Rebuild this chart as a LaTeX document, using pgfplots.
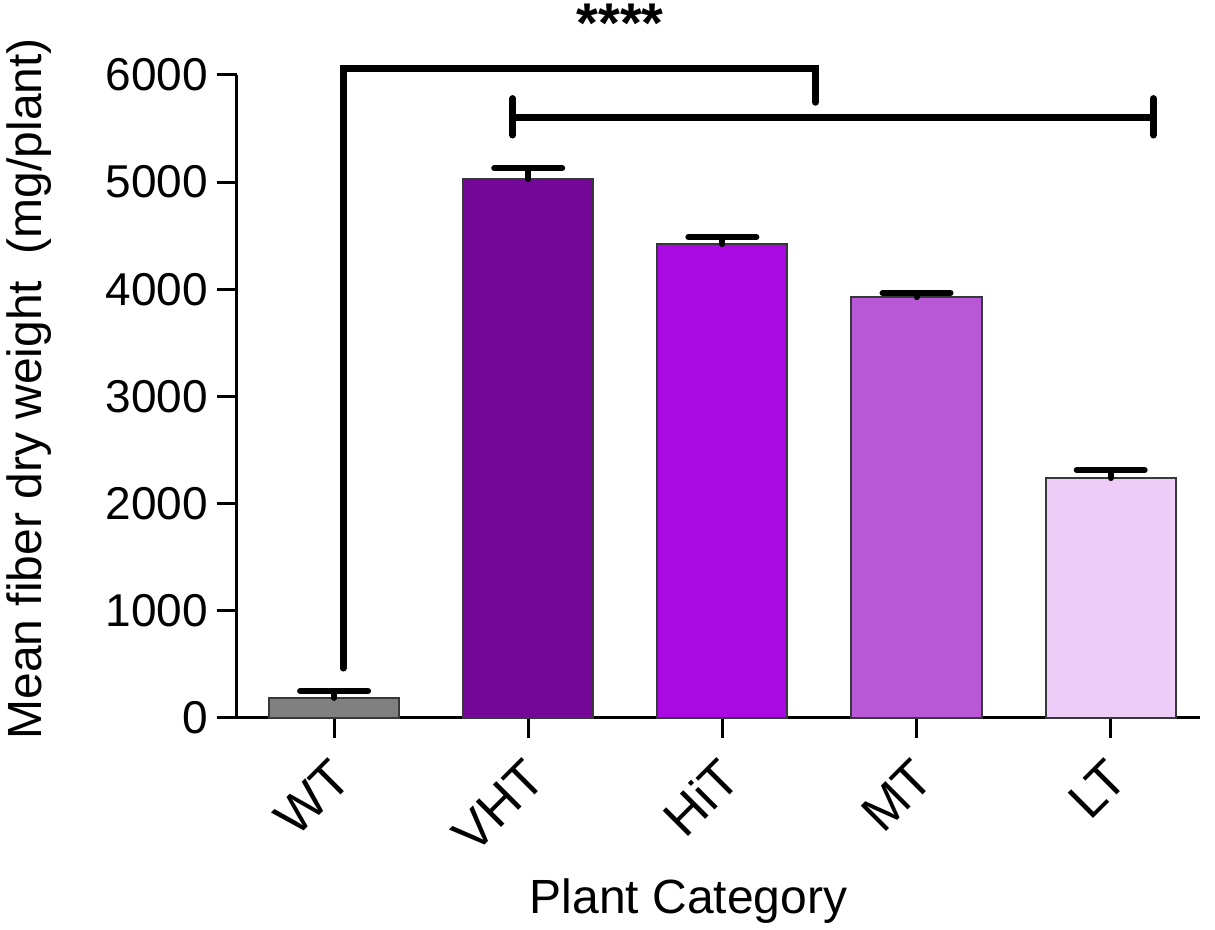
\documentclass[border=0pt]{standalone}
\usepackage{pgfplots}
\pgfplotsset{compat=1.18}
\usepackage{fontspec}
\setmainfont{Liberation Sans}
\definecolor{cWT}{RGB}{128,128,128}
\definecolor{cVHT}{RGB}{117,7,152}
\definecolor{cHiT}{RGB}{170,10,226}
\definecolor{cMT}{RGB}{184,88,214}
\definecolor{cLT}{RGB}{238,204,248}
\definecolor{edge}{RGB}{55,55,60}
\begin{document}
\begin{tikzpicture}
\begin{axis}[
  at={(0,0)}, anchor=south west,
  scale only axis, width=481.5pt, height=321.5pt,
  axis x line*=bottom, axis y line*=left,
  axis line style={line width=1.5pt},
  xmin=-0.5, xmax=4.46, ymin=0, ymax=6000,
  xtick={0,1,2,3,4}, xticklabels={WT,VHT,HiT,MT,LT},
  ytick={0,1000,...,6000},
  tick align=outside, major tick length=10pt,
  tick style={line width=1.5pt, black},
  /pgf/number format/assume math mode=true,
  /pgf/number format/1000 sep={},
  yticklabel style={font=\fontsize{23}{27}\selectfont, xshift=-1pt},
  xticklabel style={font=\fontsize{26}{30}\selectfont, xshift=6pt, yshift=-13pt, rotate=45, anchor=east},
  ylabel={Mean fiber dry weight\ \ (mg/plant)},
  ylabel style={font=\fontsize{24}{28}\selectfont, at={(axis description cs:-0.2025,0.512)}, anchor=base, rotate=0},
  xlabel={Plant Category},
  xlabel style={font=\fontsize{24}{28}\selectfont, at={(axis description cs:0.469,-0.3033)}, anchor=base},
  ybar, bar width=0.67,
  clip=false,
]
\addplot[ybar, bar shift=0pt, fill=cWT, draw=edge, line width=1pt,
  error bars/.cd, y dir=plus, y explicit,
  error bar style={line width=3pt, black, line cap=round},
  error mark options={rotate=90, mark size=17pt, line width=3pt, black, line cap=round}]
  coordinates {(0,187) +- (0,65)};
\addplot[ybar, bar shift=0pt, fill=cVHT, draw=edge, line width=1pt,
  error bars/.cd, y dir=plus, y explicit,
  error bar style={line width=3pt, black, line cap=round},
  error mark options={rotate=90, mark size=17pt, line width=3pt, black, line cap=round}]
  coordinates {(1,5028) +- (0,103)};
\addplot[ybar, bar shift=0pt, fill=cHiT, draw=edge, line width=1pt,
  error bars/.cd, y dir=plus, y explicit,
  error bar style={line width=3pt, black, line cap=round},
  error mark options={rotate=90, mark size=17pt, line width=3pt, black, line cap=round}]
  coordinates {(2,4422) +- (0,65)};
\addplot[ybar, bar shift=0pt, fill=cMT, draw=edge, line width=1pt,
  error bars/.cd, y dir=plus, y explicit,
  error bar style={line width=3pt, black, line cap=round},
  error mark options={rotate=90, mark size=17pt, line width=3pt, black, line cap=round}]
  coordinates {(3,3927) +- (0,38)};
\addplot[ybar, bar shift=0pt, fill=cLT, draw=edge, line width=1pt,
  error bars/.cd, y dir=plus, y explicit,
  error bar style={line width=3pt, black, line cap=round},
  error mark options={rotate=90, mark size=17pt, line width=3pt, black, line cap=round}]
  coordinates {(4,2239) +- (0,74)};
% significance brackets
\draw[line width=3.5pt, line cap=round, line join=miter]
  (axis cs:0.046,466) -- (axis cs:0.046,6063) -- (axis cs:2.48,6063) -- (axis cs:2.48,5746);
\draw[line width=3.5pt, line cap=round]
  (axis cs:0.92,5606) -- (axis cs:4.22,5606);
\draw[line width=3.5pt, line cap=round]
  (axis cs:0.92,5440) -- (axis cs:0.92,5780);
\draw[line width=3.5pt, line cap=round]
  (axis cs:4.22,5440) -- (axis cs:4.22,5780);
\node[font=\fontsize{28}{32}\selectfont\bfseries, inner sep=0pt, anchor=north] at (axis cs:1.473,6665) {****};
\end{axis}
\pgfresetboundingbox
\path (-118.5pt,-106pt) rectangle (489pt,359pt);
\end{tikzpicture}
\end{document}
